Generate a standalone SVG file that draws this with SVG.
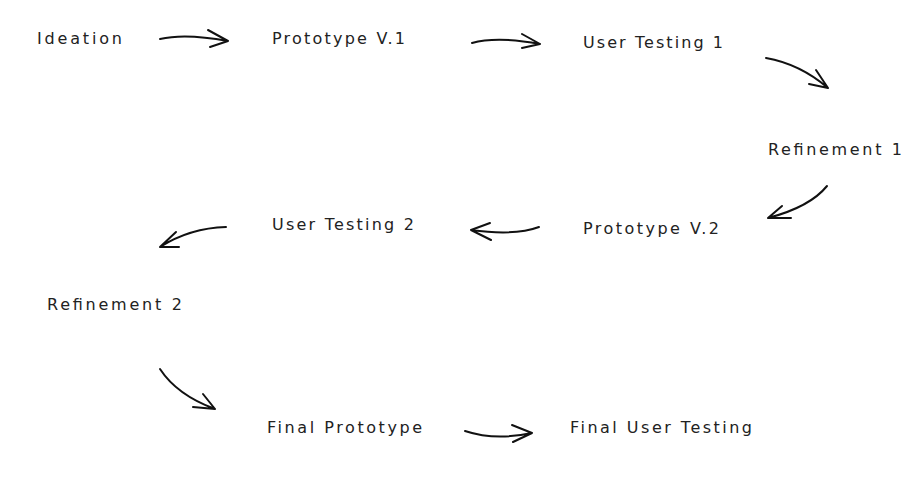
<svg xmlns="http://www.w3.org/2000/svg" width="917" height="484" viewBox="0 0 917 484">
<style>
.lbl{font-family:"DejaVu Sans","Liberation Sans",sans-serif;font-size:16px;fill:#222222;}
.arr{fill:none;stroke:#111;stroke-width:2;stroke-linecap:round;stroke-linejoin:round;}
</style>
<rect width="917" height="484" fill="#ffffff"/>
<g id="n-ideation"><text class="lbl" x="37" y="44" textLength="85" lengthAdjust="spacing">Ideation</text></g>
<g id="n-proto1"><text class="lbl" x="272" y="44" textLength="133" lengthAdjust="spacing">Prototype V.1</text></g>
<g id="n-test1"><text class="lbl" x="583" y="48" textLength="140" lengthAdjust="spacing">User Testing 1</text></g>
<g id="n-ref1"><text class="lbl" x="768" y="155" textLength="134" lengthAdjust="spacing">Refinement 1</text></g>
<g id="n-proto2"><text class="lbl" x="583" y="234" textLength="136" lengthAdjust="spacing">Prototype V.2</text></g>
<g id="n-test2"><text class="lbl" x="272" y="230" textLength="142" lengthAdjust="spacing">User Testing 2</text></g>
<g id="n-ref2"><text class="lbl" x="47" y="310" textLength="135" lengthAdjust="spacing">Refinement 2</text></g>
<g id="n-finalproto"><text class="lbl" x="267" y="433" textLength="155" lengthAdjust="spacing">Final Prototype</text></g>
<g id="n-finaltest"><text class="lbl" x="570" y="433" textLength="182" lengthAdjust="spacing">Final User Testing</text></g>
<g id="connectors">
<path class="arr" d="M160 39 Q185 33 228 41 M208 30 L228 41 L210 47"/>
<path class="arr" d="M472 43 Q497 36 540 44 M522 34 L540 44 L522 48"/>
<path class="arr" d="M766 58 Q800 64 828 88 M816 70 L828 88 L809 84"/>
<path class="arr" d="M827 186 Q810 207 768 218 M782 206 L768 218 L791 218"/>
<path class="arr" d="M539 227 Q515 236 471 230 M490 223 L471 230 L491 240"/>
<path class="arr" d="M226 227 Q190 228 160 247 M176 232 L160 247 L179 247"/>
<path class="arr" d="M160 369 Q177 395 215 409 M203 394 L215 409 L193 407"/>
<path class="arr" d="M465 431 Q495 441 532 433 M512 425 L532 433 L513 442"/>
</g>
</svg>
